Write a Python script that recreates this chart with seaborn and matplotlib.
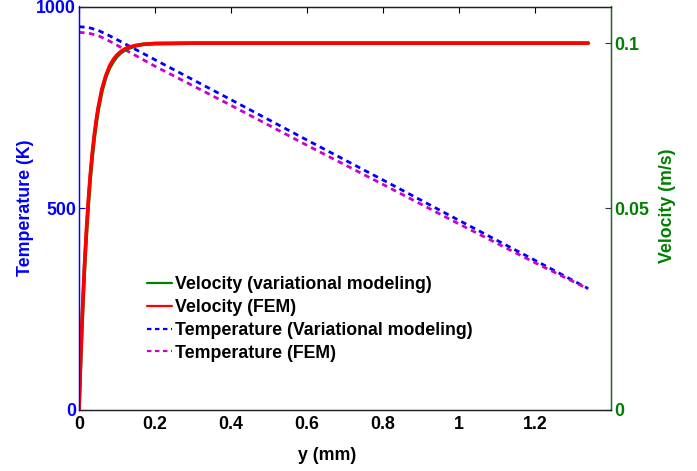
import numpy as np
import pandas as pd
import matplotlib
matplotlib.use("Agg")
import matplotlib.pyplot as plt
import seaborn as sns

# ---- data ----
y_vel = [0, 0.0025, 0.005, 0.0075, 0.01, 0.015, 0.02, 0.025, 0.03, 0.035, 0.04, 0.045,
         0.05, 0.06, 0.07, 0.08, 0.09, 0.1, 0.11, 0.12, 0.13, 0.15, 0.17, 0.2, 0.3,
         0.4, 0.6, 0.8, 1.0, 1.2, 1.34]
vel_var = [0, 0.0077, 0.0150, 0.0218, 0.0282, 0.0398, 0.0488, 0.0568, 0.0636, 0.0693,
           0.0740, 0.0780, 0.0815, 0.0868, 0.0906, 0.0932, 0.0950, 0.0964, 0.0974,
           0.0981, 0.0986, 0.0993, 0.0997, 0.0999, 0.1, 0.1, 0.1, 0.1, 0.1, 0.1, 0.1]
vel_fem = [0, 0.0082, 0.0158, 0.0228, 0.0292, 0.0404, 0.0498, 0.0578, 0.0645, 0.0701,
           0.0748, 0.0788, 0.0822, 0.0874, 0.0910, 0.0937, 0.0955, 0.0968, 0.0977,
           0.0984, 0.0989, 0.0994, 0.0997, 0.0999, 0.1, 0.1, 0.1, 0.1, 0.1, 0.1, 0.1]

y_temp = [0, 0.025, 0.05, 0.075, 0.1, 0.2, 0.4, 0.6, 0.8, 1.0, 1.2, 1.34]
temp_var = [950, 948, 941, 930, 918, 868, 769, 669, 570, 470, 371, 301]
temp_fem = [936, 934, 928, 917, 904, 852, 755, 656, 559, 461, 365, 300]

x_ticks = [0, 0.2, 0.4, 0.6, 0.8, 1.0, 1.2]
x_ticklabels = ["0", "0.2", "0.4", "0.6", "0.8", "1", "1.2"]
t_ticks = [0, 500, 1000]
v_ticks = [0, 0.055, 0.1]
v_ticklabels = ["0", "0.05", "0.1"]

labels = ["Velocity (variational modeling)", "Velocity (FEM)",
          "Temperature (Variational modeling)", "Temperature (FEM)"]

BLUE = "#0000FF"
GREEN = "#007F00"
RED = "#FF0000"
MAG = "#CC00CC"

sns.set_theme(style="white")
plt.rcParams["font.family"] = ["Liberation Sans", "DejaVu Sans"]
plt.rcParams["font.weight"] = "bold"
plt.rcParams["axes.labelweight"] = "bold"
plt.rcParams["text.color"] = "black"
plt.rcParams["legend.labelcolor"] = "black"
FS = 12.8

fig = plt.figure(figsize=(6.97, 4.71), dpi=100)
ax = fig.add_axes([79 / 697, 1 - 410 / 471, (611 - 79) / 697, (410 - 6.5) / 471])
ax2 = ax.twinx()

dft = pd.DataFrame({"y": y_temp, "var": temp_var, "fem": temp_fem})
dfv = pd.DataFrame({"y": y_vel, "var": vel_var, "fem": vel_fem})

sns.lineplot(data=dft, x="y", y="var", ax=ax, color=BLUE, lw=2.0, label=labels[2])
sns.lineplot(data=dft, x="y", y="fem", ax=ax, color=MAG, lw=2.0, label=labels[3])
for ln in ax.lines:
    ln.set_dashes((2.0, 1.6))

sns.lineplot(data=dfv, x="y", y="var", ax=ax2, color=GREEN, lw=2.6, label=labels[0])
sns.lineplot(data=dfv, x="y", y="fem", ax=ax2, color=RED, lw=2.6, label=labels[1])

ax.set_xlim(0, 1.4)
ax.set_ylim(0, 1000)
ax2.set_ylim(0, 0.11)

ax.set_xticks(x_ticks)
ax.set_xticklabels(x_ticklabels, fontsize=FS, fontweight="bold", color="black")
ax.set_yticks(t_ticks)
ax.set_yticklabels([str(t) for t in t_ticks], fontsize=FS, fontweight="bold", color=BLUE)
ax2.set_yticks(v_ticks)
ax2.set_yticklabels(v_ticklabels, fontsize=FS, fontweight="bold", color=GREEN)

ax.tick_params(axis="x", direction="in", length=4, width=0.8, pad=4, top=True,
               color="black")
ax.tick_params(axis="y", direction="in", length=4, width=0.8, pad=2, color=BLUE,
               left=True, right=False)
ax2.tick_params(axis="y", direction="in", length=4, width=0.8, pad=2, color="#333333")

ax.set_xlabel("y (mm)", fontsize=FS, fontweight="bold", color="black")
ax.xaxis.set_label_coords((327 - 79) / 532, -(447 - 410) / 403.5)
ax.set_ylabel("Temperature (K)", fontsize=FS, fontweight="bold", color=BLUE)
ax.yaxis.set_label_coords(-(79 - 34) / 532, 0.5)
ax2.set_ylabel("Velocity (m/s)", fontsize=FS, fontweight="bold", color=GREEN)
ax2.yaxis.set_label_coords(1 + (659 - 611) / 532, 0.505)

for a in (ax, ax2):
    for s in a.spines.values():
        s.set_linewidth(0.9)
        s.set_visible(True)
ax.spines["left"].set_color(BLUE)
ax.spines["top"].set_color("#222222")
ax.spines["bottom"].set_color("#222222")
ax2.spines["right"].set_color(GREEN)
ax2.spines["left"].set_color(BLUE)
ax2.spines["top"].set_color("#222222")
ax2.spines["bottom"].set_color("#222222")

if ax.get_legend():
    ax.get_legend().remove()
h1, lab1 = ax2.get_legend_handles_labels()
h0, lab0 = ax.get_legend_handles_labels()
leg = ax2.legend(h1 + h0, lab1 + lab0, loc="upper left",
                 bbox_to_anchor=(147 / 697, 1 - 276 / 471), bbox_transform=fig.transFigure,
                 frameon=False, handlelength=1.42, handletextpad=0.15,
                 labelspacing=0.33, borderpad=0, borderaxespad=0,
                 prop={"weight": "bold", "size": FS})
for t in leg.get_texts():
    t.set_color("black")
for lh in leg.get_lines():
    lh.set_linewidth(1.6)

fig.savefig("out.png", dpi=100)
